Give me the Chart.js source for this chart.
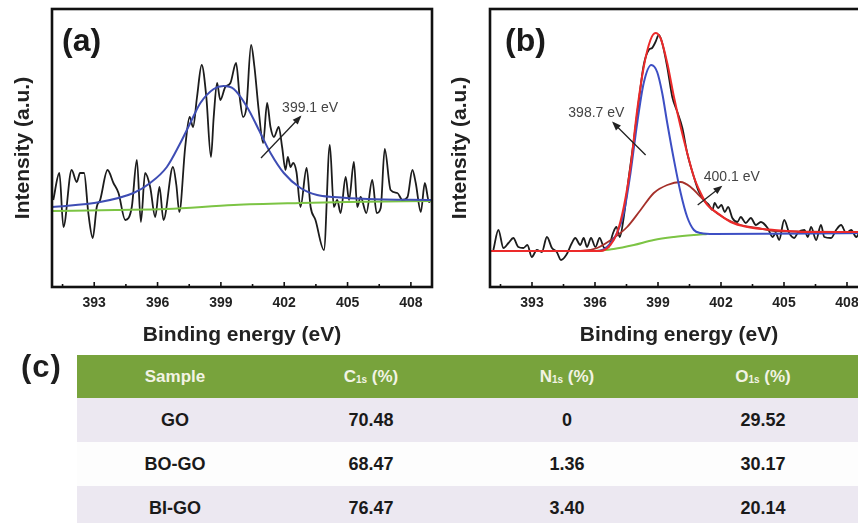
<!DOCTYPE html>
<html>
<head>
<meta charset="utf-8">
<script src="https://cdn.jsdelivr.net/npm/chart.js@4.4.1/dist/chart.umd.min.js"></script>
<style>
  html, body { margin: 0; padding: 0; background: #fff; }
  #page { position: relative; width: 858px; height: 523px; overflow: hidden; font-family: Arial, "Liberation Sans", sans-serif; }
  #page canvas { position: absolute; top: 0; }
  #chartA { left: 0; }
  #chartB { left: 440px; }
  #labelC { position: absolute; left: 21px; top: 349px; font-size: 31px; font-weight: bold; color: #1e1e1e; letter-spacing: 1px; }
  #xpsTable { position: absolute; left: 77px; top: 355px; border-collapse: collapse; table-layout: fixed; width: 784px; }
  #xpsTable th, #xpsTable td { width: 196px; text-align: center; padding: 0; font-weight: bold; }
  #xpsTable th { background: #78a33c; color: #f2f3e4; height: 43px; font-size: 17px; }
  #xpsTable td { height: 44px; font-size: 18px; color: #1a1a1a; background: #fdfdfd; }
  #xpsTable tr.shade td { background: #ece8f1; }
  #xpsTable sub { font-size: 10px; vertical-align: -1px; }
</style>
</head>
<body>
<div id="page">
  <canvas id="chartA" width="440" height="350"></canvas>
  <canvas id="chartB" width="436" height="350"></canvas>
  <div id="labelC">(c)</div>
  <table id="xpsTable"><thead></thead><tbody></tbody></table>
</div>
<script>
// ---- data ----
const majorTicks = [393, 396, 399, 402, 405, 408]
const minorTicks = [391.5, 394.5, 397.5, 400.5, 403.5, 406.5]

// (a) N1s scan, raw trace
const aScanE = [391.06,391.35,391.54,391.93,392.17,392.33,392.52,392.72,392.93,393.12,393.28,393.63,393.91,394.15,394.47,394.78,395.02,395.21,395.41,395.65,395.89,396.09,396.28,396.73,396.89,397.03,397.31,397.52,397.68,397.87,398.09,398.31,398.53,398.66,398.82,398.97,399.21,399.45,399.72,399.89,400.05,400.21,400.43,400.59,400.79,401.00,401.19,401.35,401.51,401.74,401.90,402.06,402.17,402.30,402.42,402.58,402.77,403.06,403.25,403.48,403.88,404.16,404.35,404.51,404.67,404.91,405.07,405.30,405.46,405.62,405.89,406.17,406.38,406.57,406.76,407.04,407.36,407.60,407.84,408.07,408.23,408.47,408.66,408.86,408.97]
const aScanI = [87,114,60,117,105,114,114,74,49,80,87,117,104,94,67,80,127,65,114,100,70,100,67,120,102,75,140,170,160,190,222,190,130,170,204,187,200,204,224,190,170,180,242,220,177,144,184,160,150,160,140,117,130,120,124,115,80,119,80,67,37,142,80,87,74,110,87,125,80,90,74,107,74,79,138,97,94,87,90,117,104,75,104,85,87]
// (a) fitted peak 399.1 eV
const aFitE = [391,393.28,394.86,395.65,396.44,397.08,397.55,398.03,398.66,399.13,399.61,400.24,400.87,401.35,401.98,402.77,403.56,404.35,405.94,409]
const aFitI = [80,85,94,104,120,144,164,184,198,201,198,180,154,134,114,99,92,90,88,87]
// (a) background
const aBgE = [391,394,396.44,399.61,402.77,405,409]
const aBgI = [76,77,78,82,84,85,86]

// (b) N1s scan, raw trace
const bScanE = [391.16,391.40,391.64,391.88,392.11,392.35,392.59,392.78,392.99,393.23,393.47,393.71,393.95,394.18,394.38,394.63,394.90,395.06,395.30,395.46,395.62,395.81,396.02,396.22,396.45,396.65,396.86,397.02,397.18,397.37,397.61,397.85,398.09,398.32,398.56,398.72,398.88,399.04,399.20,399.44,399.68,399.92,400.16,400.39,400.71,400.95,401.19,401.43,401.59,401.70,401.86,402.02,402.18,402.34,402.54,402.78,402.94,403.18,403.42,403.66,403.90,404.22,404.46,404.61,404.77,405.01,405.25,405.49,405.65,405.97,406.13,406.29,406.53,406.76,406.92,407.24,407.48,407.72,407.96,408.20,408.44,408.68,408.91]
const bScanI = [37,57,39,44,49,40,39,42,30,37,35,50,39,35,27,32,44,49,42,49,40,49,40,49,39,40,54,60,50,70,110,147,187,222,237,239,245,252,244,220,190,175,159,134,110,95,87,82,77,84,79,82,75,80,69,65,70,64,69,62,65,59,50,54,47,67,54,49,54,57,50,60,47,62,50,49,57,62,54,57,50,57,52]
// (b) fitted peak 398.7 eV
const bPeak1E = [391,396.10,396.57,397.05,397.37,397.69,398.01,398.32,398.68,398.96,399.20,399.44,399.76,400.08,400.39,400.71,401.03,401.67,409]
const bPeak1I = [36,36,40,54,74,114,164,204,222,215,194,164,127,94,70,57,54,53,54]
// (b) fitted peak 400.1 eV
const bPeak2E = [391,395.30,396.10,396.89,397.53,398.17,398.80,399.44,400.08,400.55,401.03,401.51,402.15,402.94,403.74,404.54,409]
const bPeak2I = [36,36,39,49,60,77,94,102,105,100,90,79,69,62,59,56,55]
// (b) envelope
const bSumE = [391,396.25,396.73,397.05,397.37,397.69,398.01,398.32,398.64,398.88,399.12,399.44,399.76,400.08,400.39,400.71,401.03,401.35,401.83,402.46,403.26,404.54,406.13,409]
const bSumI = [36,36,42,54,80,120,177,220,247,254,249,224,190,160,134,110,94,82,74,65,60,57,55,55]
// (b) background
const bBgE = [396.0,396.89,397.85,398.80,399.76,400.71,401.35]
const bBgI = [36,38,42,47,50,52,53]

// (c) table
const tableHead = ['Sample', 'C<sub>1s</sub> (%)', 'N<sub>1s</sub> (%)', 'O<sub>1s</sub> (%)']
const samples = ['GO', 'BO-GO', 'BI-GO']
const c1s = ['70.48', '68.47', '76.47']
const n1s = ['0', '1.36', '3.40']
const o1s = ['29.52', '30.17', '20.14']

// ---- drawing ----
Chart.defaults.font.family = 'Arial, "Liberation Sans", sans-serif'
Chart.defaults.color = '#222'

const pts = (xs, ys) => xs.map((x, i) => ({ x, y: ys[i] }))

const line = (data, color, width) => ({
  data,
  borderColor: color,
  borderWidth: width || 1.8,
  pointRadius: 0,
  fill: false,
  cubicInterpolationMode: 'monotone'
})

// frame, inward ticks, panel letter and peak labels
const xpsDecor = {
  id: 'xpsDecor',
  afterDatasetsDraw(chart, args, opts) {
    const { ctx, chartArea: a, scales: { x, y } } = chart
    ctx.save()
    ctx.strokeStyle = '#111'
    ctx.lineWidth = 1.6
    ctx.beginPath()
    majorTicks.forEach(v => { const px = x.getPixelForValue(v); ctx.moveTo(px, a.bottom); ctx.lineTo(px, a.bottom - 5) })
    minorTicks.forEach(v => { const px = x.getPixelForValue(v); ctx.moveTo(px, a.bottom); ctx.lineTo(px, a.bottom - 3) })
    ctx.stroke()

    ctx.lineWidth = 2.6
    ctx.strokeRect(a.left, a.top, a.right - a.left, a.bottom - a.top)

    ctx.fillStyle = '#1a1a1a'
    ctx.font = 'bold 32px Arial, "Liberation Sans", sans-serif'
    ctx.textBaseline = 'alphabetic'
    ctx.fillText(opts.panel, a.left + opts.panelDx, a.top + 42)

    ctx.font = '14px Arial, "Liberation Sans", sans-serif'
    ctx.textBaseline = 'middle'
    opts.notes.forEach(n => {
      ctx.fillStyle = '#444'
      ctx.fillText(n.text, x.getPixelForValue(n.at[0]), y.getPixelForValue(n.at[1]))
      const x0 = x.getPixelForValue(n.from[0]), y0 = y.getPixelForValue(n.from[1])
      const x1 = x.getPixelForValue(n.to[0]), y1 = y.getPixelForValue(n.to[1])
      const ang = Math.atan2(y1 - y0, x1 - x0)
      ctx.strokeStyle = '#222'
      ctx.lineWidth = 1.3
      ctx.beginPath(); ctx.moveTo(x0, y0); ctx.lineTo(x1, y1); ctx.stroke()
      ctx.fillStyle = '#222'
      ctx.beginPath()
      ctx.moveTo(x1 + 2 * Math.cos(ang), y1 + 2 * Math.sin(ang))
      ctx.lineTo(x1 - 7 * Math.cos(ang) + 3.5 * Math.sin(ang), y1 - 7 * Math.sin(ang) - 3.5 * Math.cos(ang))
      ctx.lineTo(x1 - 7 * Math.cos(ang) - 3.5 * Math.sin(ang), y1 - 7 * Math.sin(ang) + 3.5 * Math.cos(ang))
      ctx.closePath(); ctx.fill()
    })
    ctx.restore()
  }
}

function spectrum(id, datasets, yWidth, yTitlePad, decor) {
  return new Chart(document.getElementById(id), {
    type: 'line',
    data: { datasets },
    plugins: [xpsDecor],
    options: {
      responsive: false,
      animation: false,
      layout: { padding: { top: 9, right: 8, left: 0, bottom: 0 } },
      plugins: { legend: { display: false }, tooltip: { enabled: false }, xpsDecor: decor },
      scales: {
        x: {
          type: 'linear',
          min: 391,
          max: 409,
          afterBuildTicks: s => { s.ticks = majorTicks.map(value => ({ value })) },
          afterFit: s => { s.height = 63 },
          grid: { display: false, drawTicks: false },
          border: { display: false },
          ticks: { padding: 8, font: { size: 14, weight: 'bold' }, color: '#222' },
          title: { display: true, text: 'Binding energy (eV)', font: { size: 21, weight: 'bold' }, color: '#222', padding: { top: 0, bottom: 2 } }
        },
        y: {
          min: 0,
          max: 278,
          afterFit: s => { s.width = yWidth },
          grid: { display: false, drawTicks: false },
          border: { display: false },
          ticks: { display: false },
          title: { display: true, text: 'Intensity (a.u.)', font: { size: 21, weight: 'bold' }, color: '#222', padding: { top: yTitlePad, bottom: 0 } }
        }
      }
    }
  })
}

spectrum('chartA', [
  line(pts(aFitE, aFitI), '#3e4db4', 2),
  line(pts(aBgE, aBgI), '#7cc444', 2),
  line(pts(aScanE, aScanI), '#1c1c1c', 1.8)
], 52, 10.4, {
  panel: '(a)', panelDx: 10,
  notes: [{ text: '399.1 eV', at: [401.9, 179], from: [400.9, 129], to: [402.75, 170] }]
})

spectrum('chartB', [
  line(pts(bSumE, bSumI), '#ec2a2a', 2),
  line(pts(bPeak1E, bPeak1I), '#3d4fc4', 2),
  line(pts(bPeak2E, bPeak2I), '#a5302a', 1.8),
  line(pts(bBgE, bBgI), '#7cc444', 2),
  line(pts(bScanE, bScanI), '#1c1c1c', 1.8)
], 50, 7.4, {
  panel: '(b)', panelDx: 15,
  notes: [
    { text: '398.7 eV', at: [394.73, 174], from: [398.41, 132], to: [396.88, 164] },
    { text: '400.1 eV', at: [401.18, 110], from: [400.89, 82], to: [401.99, 100] }
  ]
})

// table (c)
const tbl = document.getElementById('xpsTable')
tbl.tHead.innerHTML = '<tr>' + tableHead.map(h => '<th>' + h + '</th>').join('') + '</tr>'
tbl.tBodies[0].innerHTML = samples.map((s, i) =>
  '<tr class="' + (i % 2 === 0 ? 'shade' : '') + '"><td>' + s + '</td><td>' + c1s[i] + '</td><td>' + n1s[i] + '</td><td>' + o1s[i] + '</td></tr>'
).join('')
</script>
</body>
</html>
